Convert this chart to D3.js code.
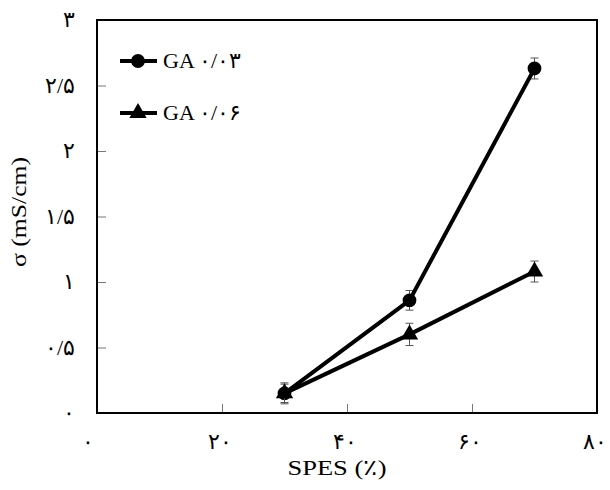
<!DOCTYPE html>
<html>
<head>
<meta charset="utf-8">
<script src="https://cdn.jsdelivr.net/npm/d3@7"></script>
<style>
  body { margin: 0; background: #fff; }
  text { font-family: "Times New Roman", "Liberation Serif", Tinos, serif; fill: #000; }
</style>
</head>
<body>
<div id="chart"></div>
<script>
// data
const spes = [30, 50, 70];
const seriesNames = ['GA ۰/۰۳', 'GA ۰/۰۶'];
const ga003 = [0.15, 0.86, 2.63];
const ga003Err = [0.08, 0.075, 0.08];
const ga006 = [0.15, 0.60, 1.08];
const ga006Err = [0.07, 0.085, 0.08];
const xTicks = [0, 20, 40, 60, 80];
const yTicks = [0, 0.5, 1, 1.5, 2, 2.5, 3];

const width = 610, height = 490;
const margin = { top: 20, right: 13, bottom: 77, left: 97 };
const innerW = width - margin.left - margin.right;
const innerH = height - margin.top - margin.bottom;

// western digits -> persian, "." -> "/"
const faDigits = '۰۱۲۳۴۵۶۷۸۹';
const fa = v => String(v).replace('.', '/').replace(/\d/g, d => faDigits[d]);

const svg = d3.select('#chart').append('svg')
  .attr('width', width)
  .attr('height', height);

const plot = svg.append('g')
  .attr('transform', `translate(${margin.left},${margin.top})`);

const x = d3.scaleLinear().domain([0, 80]).range([0, innerW]);
const y = d3.scaleLinear().domain([0, 3]).range([innerH, 0]);

// axes, ticks point inward
const xAxis = plot.append('g')
  .attr('transform', `translate(0,${innerH})`)
  .call(d3.axisBottom(x).tickValues(xTicks).tickFormat(fa).tickSize(-9).tickPadding(20));

const yAxis = plot.append('g')
  .call(d3.axisLeft(y).tickValues(yTicks).tickFormat(fa).tickSize(-9).tickPadding(22));

[xAxis, yAxis].forEach(a => {
  a.select('.domain').remove();
  a.selectAll('line').attr('stroke', '#777').attr('stroke-width', 1);
  a.selectAll('text').attr('font-size', 22).attr('fill', '#000');
});
yAxis.selectAll('text').attr('dy', '0.3em');
xAxis.selectAll('text').attr('dx', -3);
xAxis.selectAll('text').filter(d => d === 0).attr('dx', -10);

// frame
plot.append('rect')
  .attr('width', innerW)
  .attr('height', innerH)
  .attr('fill', 'none')
  .attr('stroke', '#000')
  .attr('stroke-width', 2);

// titles
svg.append('text')
  .attr('x', 337)
  .attr('y', 475)
  .attr('text-anchor', 'middle')
  .attr('font-size', 22)
  .attr('textLength', 99)
  .attr('lengthAdjust', 'spacingAndGlyphs')
  .text('SPES (٪)');

svg.append('text')
  .attr('transform', `translate(26,212) rotate(-90)`)
  .attr('text-anchor', 'middle')
  .attr('font-size', 22)
  .attr('textLength', 110)
  .attr('lengthAdjust', 'spacingAndGlyphs')
  .text('σ (mS/cm)');

const series = [
  { name: seriesNames[0], values: ga003, err: ga003Err, symbol: d3.symbolCircle, size: 150 },
  { name: seriesNames[1], values: ga006, err: ga006Err, symbol: d3.symbolTriangle, size: 130 }
];

const line = d3.line()
  .x((d, i) => x(spes[i]))
  .y(d => y(d));

series.forEach(s => {
  // error bars
  const eb = plot.append('g').attr('stroke', '#555').attr('stroke-width', 1);
  s.values.forEach((v, i) => {
    const cx = x(spes[i]);
    eb.append('line').attr('x1', cx).attr('x2', cx).attr('y1', y(v - s.err[i])).attr('y2', y(v + s.err[i]));
    [v - s.err[i], v + s.err[i]].forEach(e => {
      eb.append('line').attr('x1', cx - 4).attr('x2', cx + 4).attr('y1', y(e)).attr('y2', y(e));
    });
  });

  plot.append('path')
    .datum(s.values)
    .attr('d', line)
    .attr('fill', 'none')
    .attr('stroke', '#000')
    .attr('stroke-width', 4);

  plot.selectAll(null)
    .data(s.values)
    .enter().append('path')
    .attr('transform', (d, i) => `translate(${x(spes[i])},${y(d)})`)
    .attr('d', d3.symbol().type(s.symbol).size(s.size))
    .attr('fill', '#000');
});

// legend
const legend = svg.append('g').attr('transform', 'translate(120,61)');
series.forEach((s, i) => {
  const g = legend.append('g').attr('transform', `translate(0,${i * 52})`);
  g.append('line').attr('x1', 0).attr('x2', 37).attr('stroke', '#000').attr('stroke-width', 4);
  g.append('path')
    .attr('transform', 'translate(18,0)')
    .attr('d', d3.symbol().type(s.symbol).size(s.size))
    .attr('fill', '#000');
  g.append('text')
    .attr('x', 43)
    .attr('y', 7)
    .attr('font-size', 22)
    .text(s.name);
});
</script>
</body>
</html>
